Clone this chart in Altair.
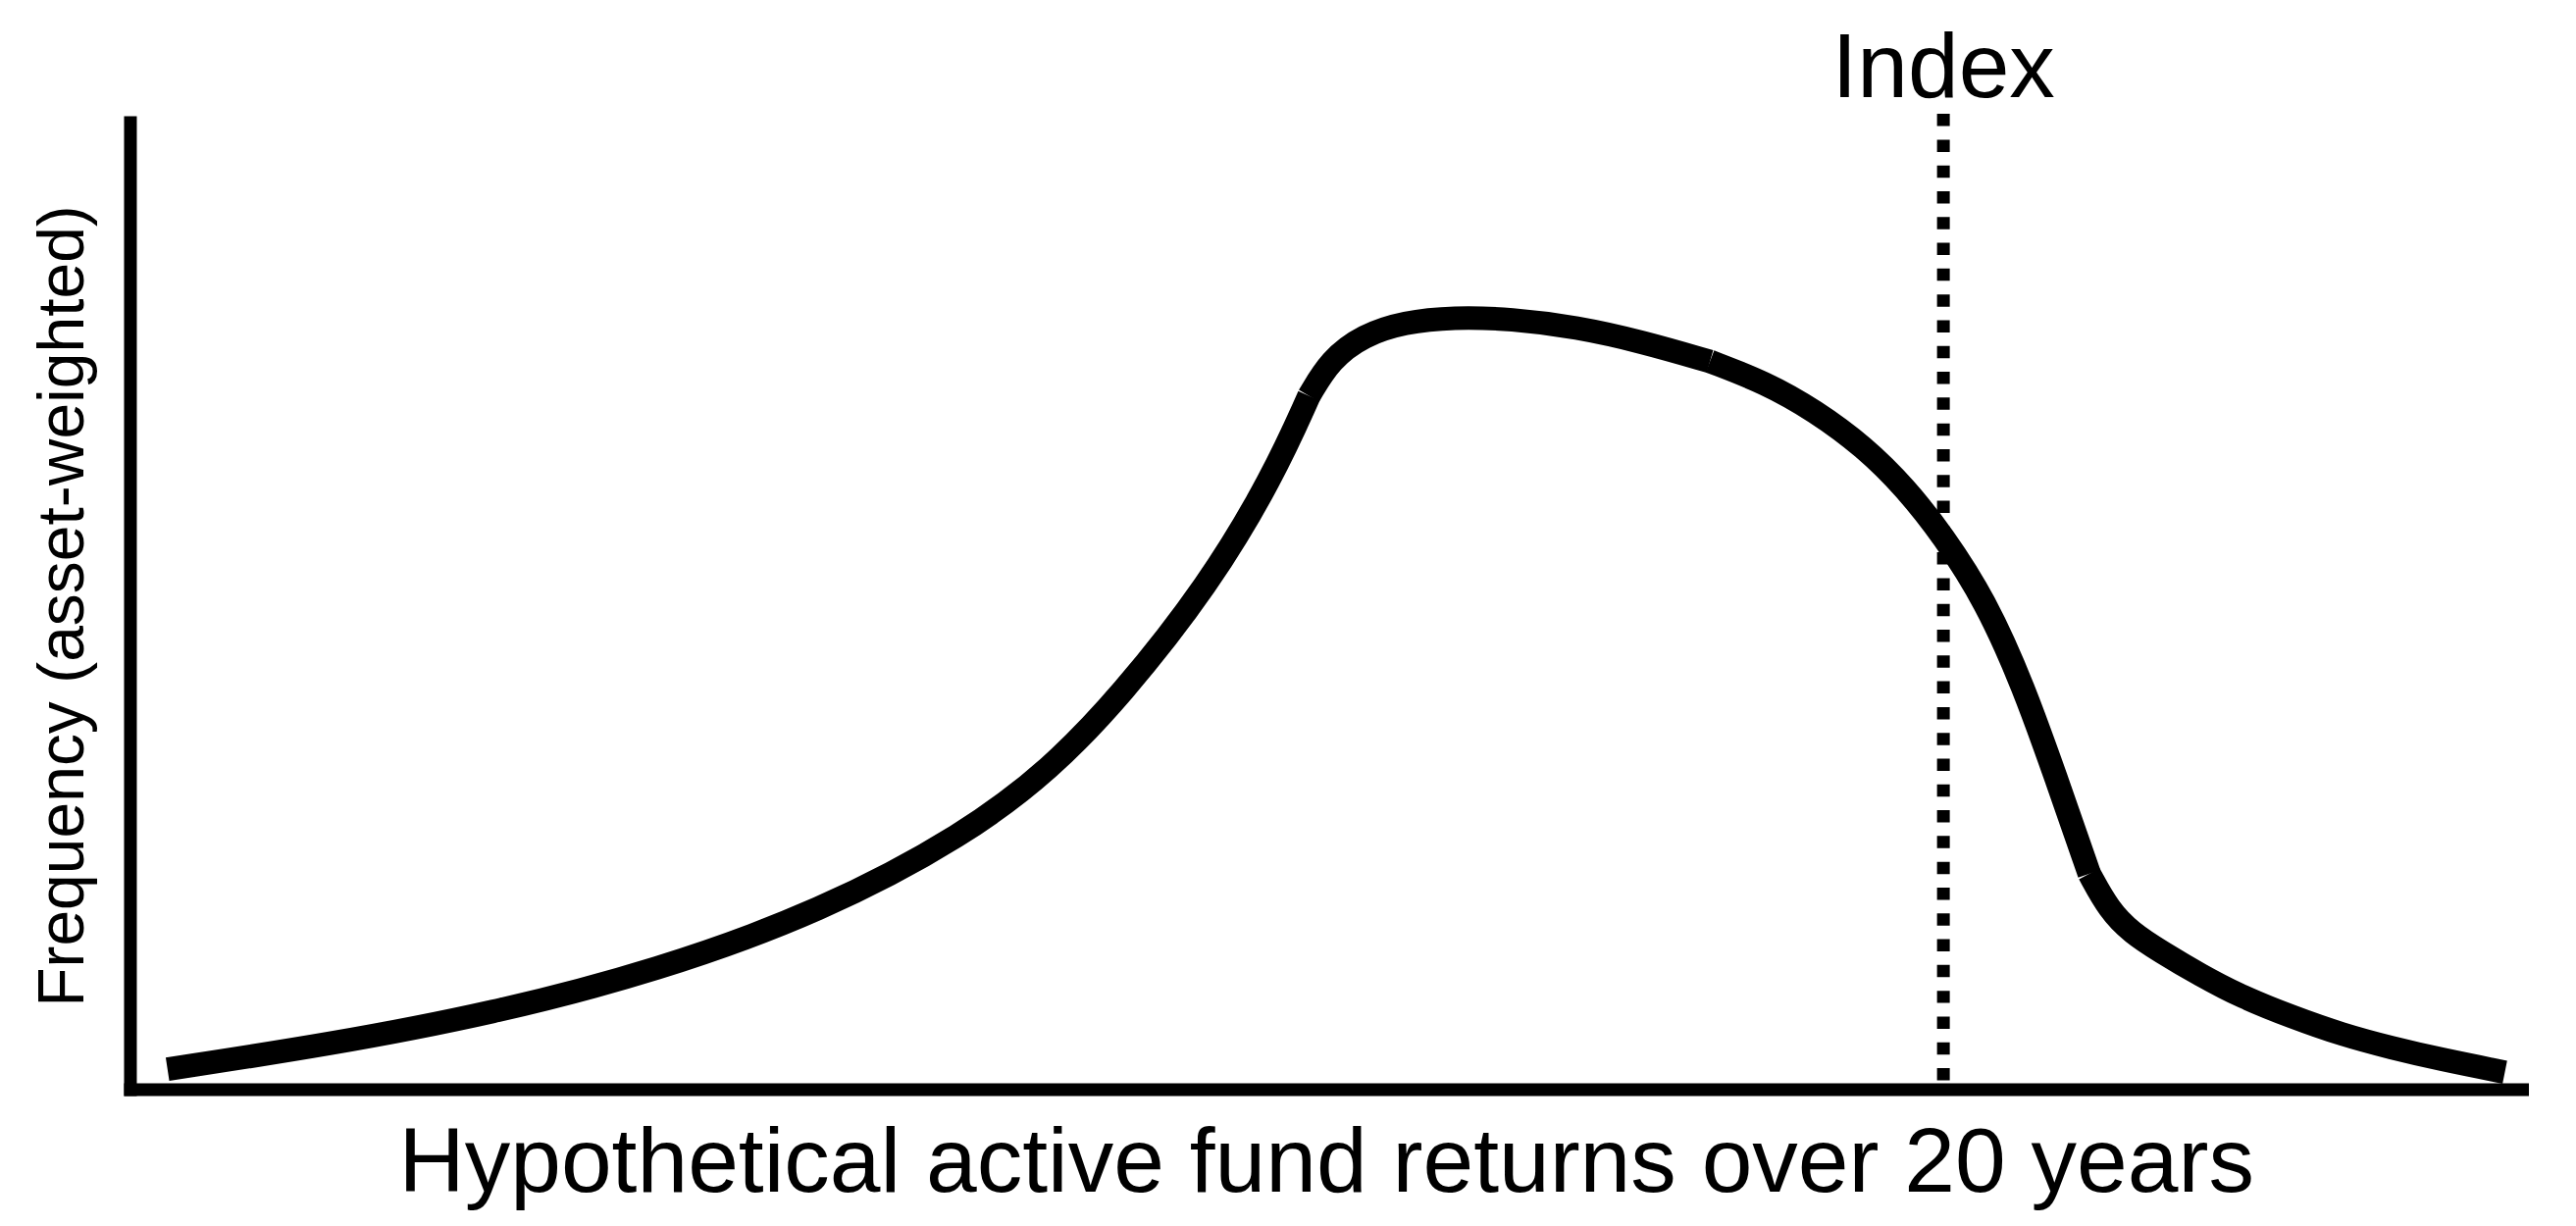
import altair as alt
import pandas as pd

# Curve (arbitrary units: x 0-100 across the axis, y 0-100 up the axis).
# The drawn curve is made of four smooth pieces that meet at slight corners.
rise_x = [1.57, 8.30, 15.17, 22.03, 28.90, 34.94, 38.51, 41.40, 45.10, 47.78, 49.29]
rise_y = [2.06, 4.60, 7.83, 12.25, 18.36, 26.34, 33.14, 40.61, 52.16, 63.37, 71.69]

top_x = [49.29, 50.18, 51.56, 53.27, 55.33, 57.74, 60.48, 63.23, 66.05]
top_y = [71.69, 75.43, 77.97, 79.33, 79.84, 79.67, 78.82, 77.29, 75.26]

fall_x = [66.05, 68.38, 70.44, 72.50, 74.22, 75.80, 77.58, 79.16, 80.53, 81.91]
fall_y = [75.26, 73.05, 70.16, 66.42, 62.18, 57.25, 50.46, 41.63, 32.12, 22.27]

tail_x = [81.91, 82.73, 83.69, 84.86, 86.58, 88.29, 90.35, 92.48, 94.54, 96.60, 99.28]
tail_y = [22.27, 18.53, 16.15, 14.28, 11.74, 9.53, 7.49, 5.62, 4.26, 3.07, 1.75]

index_x = [75.81]
index_label = ["Index"]

x_title = "Hypothetical active fund returns over 20 years"
y_title = "Frequency (asset-weighted)"

FONT = "Liberation Sans"
W, H = 2439, 986

pieces = []
for name, xs_, ys_ in [("rise", rise_x, rise_y), ("top", top_x, top_y),
                       ("fall", fall_x, fall_y), ("tail", tail_x, tail_y)]:
    pieces.append(pd.DataFrame({"x": xs_, "y": ys_, "piece": name}))
curve = pd.concat(pieces, ignore_index=True)
idx = pd.DataFrame({"x": index_x, "label": index_label})

xs = alt.Scale(domain=[0, 100], nice=False, zero=False)
ys = alt.Scale(domain=[0, 100], nice=False, zero=False)

axis_common = dict(
    domainColor="black", domainWidth=13, domainCap="square",
    ticks=False, labels=False, grid=False,
    titleFont=FONT, titleFontWeight="normal", titleColor="black",
    titleBaseline="alphabetic",
)
x_axis = alt.Axis(title=x_title, titleFontSize=93, titleY=104.5, **axis_common)
y_axis = alt.Axis(title=y_title, titleFontSize=66, titleX=-47.5, titleAngle=270, **axis_common)

line = alt.Chart(curve).mark_line(
    color="black", strokeWidth=24, interpolate="basis", strokeCap="butt"
).encode(
    x=alt.X("x:Q", scale=xs, axis=x_axis),
    y=alt.Y("y:Q", scale=ys, axis=y_axis),
    detail="piece:N",
)

rule = alt.Chart(idx).mark_rule(
    color="black", strokeWidth=13, strokeDash=[12.5, 13.8], strokeCap="butt"
).encode(
    x=alt.X("x:Q", scale=xs, axis=x_axis),
    y=alt.value(-8.5),
    y2=alt.value(H),
)

label = alt.Chart(idx).mark_text(
    font=FONT, fontSize=93, color="black", align="center", baseline="alphabetic"
).encode(
    x=alt.X("x:Q", scale=xs, axis=x_axis),
    y=alt.value(-25.5),
    text="label:N",
)

chart = alt.layer(line, rule, label).properties(
    width=W, height=H,
    autosize=alt.AutoSizeParams(type="none"),
    padding={"left": 124.5, "top": 116.5, "right": 47, "bottom": 125},
    background="white",
).configure_view(stroke=None)

chart.save("out.html", embed_options={"renderer": "svg", "actions": False})
